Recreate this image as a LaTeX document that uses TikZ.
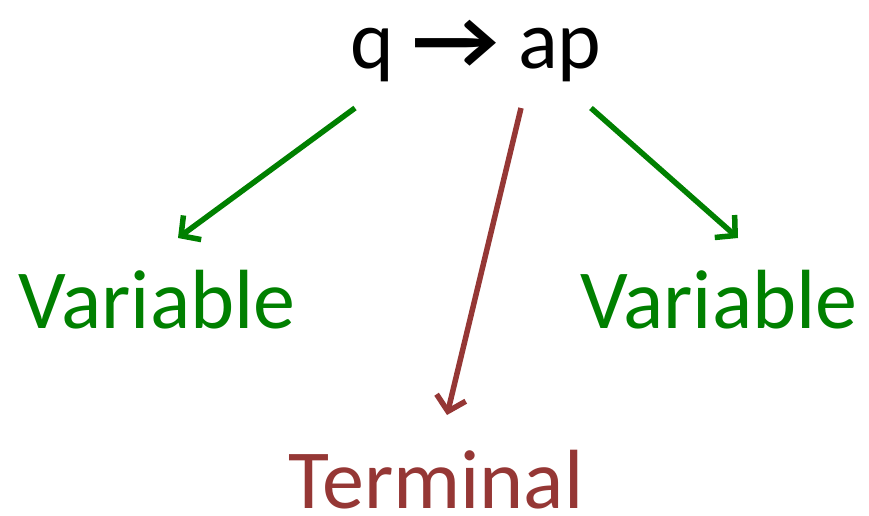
\documentclass[tikz,border=0pt]{standalone}
\usepackage{fontspec}
\setmainfont{Carlito}
\usepackage{xcolor}
\usetikzlibrary{arrows.meta}
\usetikzlibrary{positioning}
\definecolor{vargreen}{RGB}{0,128,0}
\definecolor{termred}{RGB}{149,55,53}

\begin{document}
\begin{tikzpicture}[x=1pt, y=-1pt,
    word/.style={anchor=base, inner sep=0pt, text depth=0pt, font=\fontsize{84}{90}\selectfont},
    link/.style={line width=5.5pt, -{Straight Barb[length=14pt, width=30pt]}}]
    \useasboundingbox (0,0) rectangle (869,515);
    \node[word, font=\fontsize{83}{88}\selectfont] (rule) at (476,68) {q {\bfseries\scalebox{1.15}[1]{→}} ap};
    \node[word, text=vargreen] (varl) at (157,328) {Variable};
    \node[word, text=vargreen] (varr) at (719,328) {Variable};
    \node[word, text=termred] (term) at (436,508) {Terminal};
    % start and end points of the arrows
    \coordinate (qfoot) at (355,108);
    \coordinate (afoot) at (521,108);
    \coordinate (pfoot) at (591,108);
    \coordinate (varltip) at (178,238);
    \coordinate (termtip) at (447,415);
    \coordinate (varrtip) at (738,238);
    \draw[link, vargreen] (qfoot) -- (varltip);
    \draw[link, termred] (afoot) -- (termtip);
    \draw[link, vargreen] (pfoot) -- (varrtip);
\end{tikzpicture}
\end{document}
